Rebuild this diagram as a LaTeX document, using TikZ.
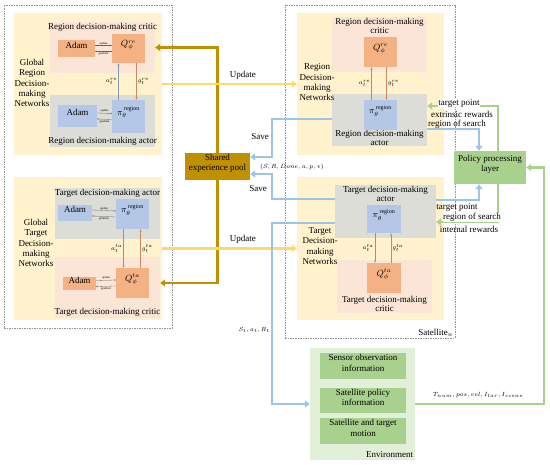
\documentclass[tikz,border=0pt]{standalone}
\usepackage{fontspec}
\setmainfont{Liberation Serif}
\usepackage{tikz}
\usetikzlibrary{arrows.meta,calc,positioning,fit}

\definecolor{netyellow}{HTML}{FFF2CC}
\definecolor{criticpink}{HTML}{FBE5D6}
\definecolor{actorgrey}{HTML}{DBDDD6}
\definecolor{qorange}{HTML}{F4B183}
\definecolor{piblue}{HTML}{B4C7E7}
\definecolor{poolgold}{HTML}{BF9000}
\definecolor{updyellow}{HTML}{FFD966}
\definecolor{saveblue}{HTML}{9DC3E6}
\definecolor{greenmid}{HTML}{A9D18E}
\definecolor{greenlight}{HTML}{E2F0D9}
\definecolor{aline}{HTML}{8497B0}
\definecolor{gline}{HTML}{C9895C}

\begin{document}
\begin{tikzpicture}[x=1pt,y=-1pt,
        font=\fontsize{9}{10.3}\selectfont,
        dashbox/.style={draw=gray!85, dash pattern=on 1.5pt off 1pt, line width=0.5pt, inner sep=0pt},
        netbox/.style={fill=netyellow, inner sep=0pt},
        criticbox/.style={fill=criticpink, inner sep=0pt},
        actorbox/.style={fill=actorgrey, inner sep=0pt},
        qbox/.style={fill=qorange, inner sep=0pt},
        pibox/.style={fill=piblue, inner sep=0pt},
        adamq/.style={fill=qorange, inner sep=0pt},
        adamp/.style={fill=piblue, inner sep=0pt},
        poolbox/.style={fill=poolgold, inner sep=0pt, align=center},
        greenbox/.style={fill=greenmid, inner sep=0pt, align=center},
        envbox/.style={fill=greenlight, inner sep=0pt},
        thick tip/.style={-{Triangle[length=5pt,width=7pt]}},
        goldline/.style={draw=poolgold, line width=2.5pt, thick tip},
        updline/.style={draw=updyellow, line width=2.5pt, thick tip},
        saveline/.style={draw=saveblue, line width=2.5pt, thick tip},
        greenline/.style={draw=greenmid, line width=2.5pt, thick tip},
        tinyarrow/.style={draw=gray!80!black, line width=0.3pt, -{Stealth[length=1.5pt,width=1.5pt]}},
        tinylab/.style={font=\fontsize{3}{3.5}\selectfont, inner sep=0.6pt},
        aarrow/.style={draw=aline, line width=0.5pt, -{Stealth[length=2.5pt,width=2pt]}},
        garrow/.style={draw=gline, line width=0.5pt, -{Stealth[length=2.5pt,width=2pt]}},
        smalllab/.style={font=\fontsize{6}{7}\selectfont, inner sep=1pt},
        mathlab/.style={font=\fontsize{6.5}{7}\selectfont, inner sep=0pt},
        sidelab/.style={align=center, inner sep=0pt},
        twoline/.style={align=center, font=\fontsize{9}{9.5}\selectfont},
        whitelab/.style={fill=white, inner sep=0.5pt}
    ]
        \useasboundingbox (0,0) rectangle (550,465);

        % outer dashed frames
        \node[dashbox, fit={(4,5) (172,328)}] (glob) {};
        \node[dashbox, fit={(285,5) (455,338)}] (sat) {};
        \node[anchor=south east, inner sep=2pt] at (sat.south east) {Satellite$_n$};

        % network areas
        \node[netbox, fit={(14,13) (162,155)}] (grn) {};
        \node[netbox, fit={(14,177) (162,320)}] (gtn) {};
        \node[netbox, fit={(297,13) (444,155)}] (rn) {};
        \node[netbox, fit={(297,177) (444,320)}] (tn) {};

        % global region networks
        \node[criticbox, fit={(50,22) (155,73)}] (grc) {};
        \node[actorbox, fit={(50,95) (155,147)}] (gra) {};
        \node[anchor=north, inner sep=1pt] at (grc.north) {Region decision-making critic};
        \node[anchor=south, inner sep=1.5pt] at (gra.south) {Region decision-making actor};
        \node[qbox, fit={(112,34) (145,63)}] (grq) {$Q_{\phi}^{re}$};
        \node[adamq, fit={(58,40) (95,57)}] (grqa) {Adam};
        \node[pibox, fit={(112,100) (145,133)}] (grp) {$\pi_{\theta}^{\,\mathrm{region}}$};
        \node[adamp, fit={(58,105) (97,127)}] (grpa) {Adam};
        \node[sidelab] at (32,83) {Global\\Region\\Decision-\\making\\Networks};

        \draw[tinyarrow] ($(grqa.east)+(0,-3)$) -- node[tinylab, above]{update} ($(grq.west)+(0,-3)$);
        \draw[tinyarrow] ($(grq.west)+(0,3)$) -- node[tinylab, below]{gradient} ($(grqa.east)+(0,3)$);
        \draw[tinyarrow] ($(grpa.east)+(0,-3)$) -- node[tinylab, above]{update} ($(grp.west)+(0,-3)$);
        \draw[tinyarrow] ($(grp.west)+(0,3)$) -- node[tinylab, below]{gradient} ($(grpa.east)+(0,3)$);
        \draw[aarrow] ($(grp.north)+(-10,0)$) -- node[smalllab, left]{$a_t^{re}$} ($(grq.south)+(-10,0)$);
        \draw[garrow] ($(grq.south)+(8,0)$) -- node[smalllab, right]{$g_t^{re}$} ($(grp.north)+(8,0)$);

        % global target networks
        \node[actorbox, fit={(55,188) (160,239)}] (gta) {};
        \node[criticbox, fit={(55,257) (160,318)}] (gtc) {};
        \node[anchor=north, inner sep=1pt] at (gta.north) {Target decision-making actor};
        \node[anchor=south, inner sep=1.5pt] at (gtc.south) {Target decision-making critic};
        \node[pibox, fit={(116,199) (149,229)}] (gtp) {$\pi_{\theta}^{\,\mathrm{region}}$};
        \node[adamp, fit={(58,205) (92,221)}] (gtpa) {Adam};
        \node[qbox, fit={(116,268) (149,298)}] (gtq) {$Q_{\phi}^{ta}$};
        \node[adamq, fit={(63,277) (96,290)}] (gtqa) {Adam};
        \node[sidelab] at (36,243) {Global\\Target\\Decision-\\making\\Networks};

        \draw[tinyarrow] ($(gtpa.east)+(0,-3)$) -- node[tinylab, above]{update} ($(gtp.west)+(0,-3)$);
        \draw[tinyarrow] ($(gtp.west)+(0,3)$) -- node[tinylab, below]{gradient} ($(gtpa.east)+(0,3)$);
        \draw[tinyarrow] ($(gtqa.east)+(0,-3)$) -- node[tinylab, above]{update} ($(gtq.west)+(0,-3)$);
        \draw[tinyarrow] ($(gtq.west)+(0,3)$) -- node[tinylab, below]{gradient} ($(gtqa.east)+(0,3)$);
        \draw[aarrow] ($(gtp.south)+(-9,0)$) -- node[smalllab, left]{$a_t^{ta}$} ($(gtq.north)+(-9,0)$);
        \draw[garrow] ($(gtq.north)+(8,0)$) -- node[smalllab, right]{$g_t^{ta}$} ($(gtp.south)+(8,0)$);

        % satellite region networks
        \node[criticbox, fit={(332,17) (427,72)}] (rc) {};
        \node[actorbox, fit={(332,94) (427,146)}] (ra) {};
        \node[twoline, anchor=north, inner sep=1pt] at (rc.north) {Region decision-making\\critic};
        \node[twoline, anchor=south, inner sep=0.5pt, font=\fontsize{9}{8.5}\selectfont] at (ra.south) {Region decision-making\\actor};
        \node[qbox, fit={(364,37) (397,67)}] (rq) {$Q_{\phi}^{re}$};
        \node[pibox, fit={(364,100) (397,130)}] (rp) {$\pi_{\theta}^{\,\mathrm{region}}$};
        \node[sidelab] at (317,82.5) {Region\\Decision-\\making\\Networks};
        \draw[aarrow] ($(rp.north)+(-9,0)$) -- node[smalllab, left]{$a_t^{re}$} ($(rq.south)+(-9,0)$);
        \draw[garrow] ($(rq.south)+(6,0)$) -- node[smalllab, right]{$g_t^{re}$} ($(rp.north)+(6,0)$);

        % satellite target networks
        \node[actorbox, fit={(335,185) (436,238)}] (ta) {};
        \node[criticbox, fit={(337,260) (432,313)}] (tc) {};
        \node[twoline, anchor=north, inner sep=1pt] at (ta.north) {Target decision-making\\actor};
        \node[twoline, anchor=south, inner sep=1pt] at (tc.south) {Target decision-making\\critic};
        \node[pibox, fit={(367,205) (401,233)}] (tp) {$\pi_{\theta}^{\,\mathrm{region}}$};
        \node[qbox, fit={(367,263) (401,293)}] (tq) {$Q_{\phi}^{ta}$};
        \node[sidelab] at (320,246) {Target\\Decision-\\making\\Networks};
        \draw[aarrow] ($(tp.south)+(-9,0)$) -- node[smalllab, left]{$a_t^{ta}$} ($(tq.north)+(-9,0)$);
        \draw[garrow] ($(tq.north)+(7,0)$) -- node[smalllab, right]{$g_t^{ta}$} ($(tp.south)+(7,0)$);

        % pool, policy layer, environment
        \node[poolbox, fit={(185,153) (250,180)}] (pool) {Shared\\experience pool};
        \node[greenbox, fit={(454,151) (526,184)}] (pp) {Policy processing\\layer};
        \node[envbox, fit={(310,348) (415,460)}] (env) {};
        \node[greenbox, fit={(320,353) (406,379)}] (env1) {Sensor observation\\information};
        \node[greenbox, fit={(320,388) (406,413)}] (env2) {Satellite policy\\information};
        \node[greenbox, fit={(320,418) (406,444)}] (env3) {Satellite and target\\motion};
        \node[anchor=south east, inner sep=2pt] at (env.south east) {Environment};

        % connectors
        \draw[goldline] (pool.north) |- (grc.east);
        \draw[goldline] (pool.south) |- ($(gtc.east)+(0,-4.5)$);
        \draw[updline] (grn.east) -- node[above, pos=0.6]{Update} (rn.west);
        \draw[updline] (gtn.east) -- node[above, pos=0.6]{Update} (tn.west);

        \draw[saveline] ($(ra.west)+(0,-1)$) -- ++(-60,0) |- ($(pool.east)+(0,-9.5)$);
        \draw[saveline] ($(ta.west)+(0,-12.5)$) -- ++(-63,0) |- ($(pool.east)+(0,7.5)$);
        \draw[saveline] ($(ta.west)+(0,11.5)$) -- ++(-63,0) |- (env.west);
        \node[inner sep=0pt] at (260,137) {Save};
        \node[inner sep=0pt] at (258,189) {Save};
        \node[mathlab, anchor=west] at (260,167) {$(S,R,Done,a,p,v)$};
        \node[mathlab, anchor=east, inner sep=2pt] at (272,330) {$S_t,a_t,R_t$};

        \draw[greenline] ($(pp.north)+(8,0)$) |- ($(ra.east)+(0,-14)$);
        \draw[saveline] ($(ra.east)+(0,9)$) -| ($(pp.north)+(-11,0)$);
        \draw[saveline] ($(ta.east)+(0,-11.5)$) -| ($(pp.south)+(-11,0)$);
        \draw[greenline] ($(pp.south)+(8,0)$) |- ($(ta.east)+(0,10.5)$);
        \draw[greenline] (env.east) -- ++(129,0) |- (pp.east);

        \node[whitelab] at (459,103) {target point};
        \node[inner sep=0.5pt] at (462,114) {extrinsic rewards};
        \node[inner sep=0.5pt] at (457,124) {region of search};
        \node[inner sep=0.5pt] at (457,207) {target point};
        \node[whitelab] at (472,217.5) {region of search};
        \node[inner sep=0.5pt] at (469,229) {internal rewards};
        \node[mathlab] at (478,395) {$T_{num}, pos, vel, I_{tar}, I_{scene}$};
    \end{tikzpicture}
\end{document}
